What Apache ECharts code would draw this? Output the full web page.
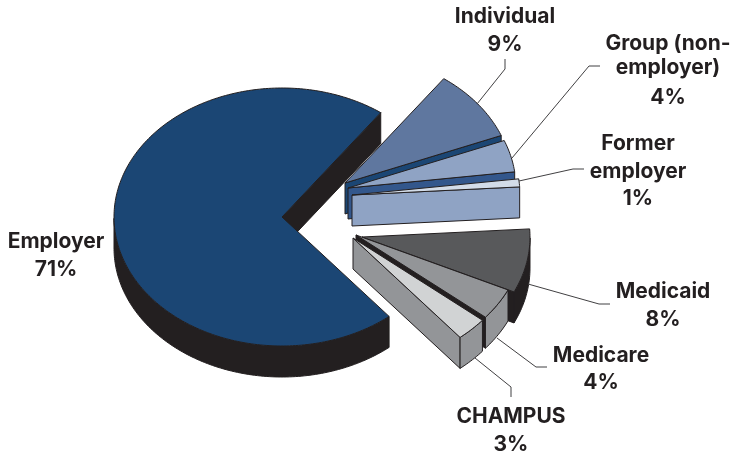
<!DOCTYPE html>
<html>
<head>
<meta charset="utf-8">
<style>
    html, body { margin: 0; padding: 0; background: #fff; }
    #chartDom { width: 734px; height: 453px; }
</style>
<script src="https://cdn.jsdelivr.net/npm/echarts@6/dist/echarts.min.js"></script>
</head>
<body>
<div id="chartDom"></div>
<script>
const categories = ['Employer', 'Individual', 'Group (non-\nemployer)', 'Former\nemployer', 'Medicaid', 'Medicare', 'CHAMPUS'];
const shares = [71, 9, 4, 1, 8, 4, 3];

window.onload = function () {
    // pie geometry, the slices run clockwise from startAngle
    const startAngle = 309.6;
    const radiusX = 168, radiusY = 129, depth = 31;
    const ink = '#231f20';

    // where each exploded slice has its apex
    const apexes = [[282, 217], [345, 183], [348, 188], [352, 195], [362, 237], [356, 235], [353, 238]];
    const topColors = ['#1b4674', '#5f779f', '#8fa3c4', '#d3dce8', '#58595b', '#939598', '#d1d3d4'];
    const wallColors = [ink, '#1b4674', '#33578c', '#8fa3c4', ink, ink, '#939598'];
    const rimColors = [ink, '#1b4674', '#33578c', '#8fa3c4', ink, '#939598', '#939598'];

    const labelX = [56, 505, 668, 638, 663, 601, 511];
    const labelY = [[242, 270], [17, 45], [44, 68, 98], [144, 172, 199], [292, 320], [356, 383], [417, 445]];
    const leaders = [
        null,
        [[477, 104], [505, 69], [505, 59]],
        [[512, 158], [589, 66], [600, 66]],
        [[519, 181], [573, 169], [584, 169]],
        [[528, 284], [599, 304], [610, 304]],
        [[497, 338], [536, 367], [547, 367]],
        [[475, 358], [511, 387], [511, 397]]
    ];

    const total = shares.reduce((a, b) => a + b, 0);

    function rimPoint(apex, deg, drop) {
        let rad = deg * Math.PI / 180;
        return [apex[0] + radiusX * Math.cos(rad), apex[1] - radiusY * Math.sin(rad) + (drop || 0)];
    }

    function face(points, fill) {
        return {
            type: 'polygon',
            shape: { points: points },
            style: { fill: fill, stroke: ink, lineWidth: 1, lineJoin: 'round' }
        };
    }

    // only the lower half of the rim can be seen from above
    function rimFace(apex, from, to, fill) {
        let top = [], bottom = [];
        for (let a = from; a >= to; a -= 1) {
            let s = Math.sin(a * Math.PI / 180);
            if (s <= 0.0001) {
                top.push(rimPoint(apex, a));
                bottom.unshift(rimPoint(apex, a, depth));
            }
        }
        let last = Math.sin(to * Math.PI / 180);
        if (last <= 0) {
            top.push(rimPoint(apex, to));
            bottom.unshift(rimPoint(apex, to, depth));
        }
        if (top.length < 2) {
            return null;
        }
        return face(top.concat(bottom), fill);
    }

    function renderSlice(params, api) {
        let i = params.dataIndex;
        let before = 0;
        for (let k = 0; k < i; k++) {
            before += shares[k];
        }
        let from = startAngle - before / total * 360;
        let to = from - api.value(0) / total * 360;
        let apex = apexes[i];
        let children = [];

        // cut wall on the clockwise side
        let corner = rimPoint(apex, to);
        children.push(face([apex, corner, rimPoint(apex, to, depth), [apex[0], apex[1] + depth]], wallColors[i]));

        let rim = rimFace(apex, from, to, rimColors[i]);
        if (rim) {
            children.push(rim);
        }

        let topPoints = [apex];
        for (let a = from; a > to; a -= 1) {
            topPoints.push(rimPoint(apex, a));
        }
        topPoints.push(corner);
        children.push(face(topPoints, topColors[i]));

        if (leaders[i]) {
            children.push({
                type: 'polyline',
                shape: { points: leaders[i] },
                style: { fill: 'none', stroke: '#414042', lineWidth: 1 }
            });
        }

        let lines = categories[i].split('\n').concat([api.value(0) + '%']);
        lines.forEach((text, n) => {
            children.push({
                type: 'text',
                style: {
                    text: text,
                    x: labelX[i],
                    y: labelY[i][n],
                    align: 'center',
                    verticalAlign: 'middle',
                    fill: ink,
                    font: 'bold 21px Inter, "Noto Sans", sans-serif'
                }
            });
        });

        return { type: 'group', children: children };
    }

    let chart = echarts.init(document.getElementById('chartDom'), null, { renderer: 'canvas' });
    chart.setOption({
        animation: false,
        backgroundColor: '#fff',
        series: [
            {
                type: 'custom',
                coordinateSystem: 'none',
                silent: true,
                renderItem: renderSlice,
                data: shares.map((v, i) => ({ name: categories[i], value: [v] }))
            }
        ]
    });
}
</script>
</body>
</html>
